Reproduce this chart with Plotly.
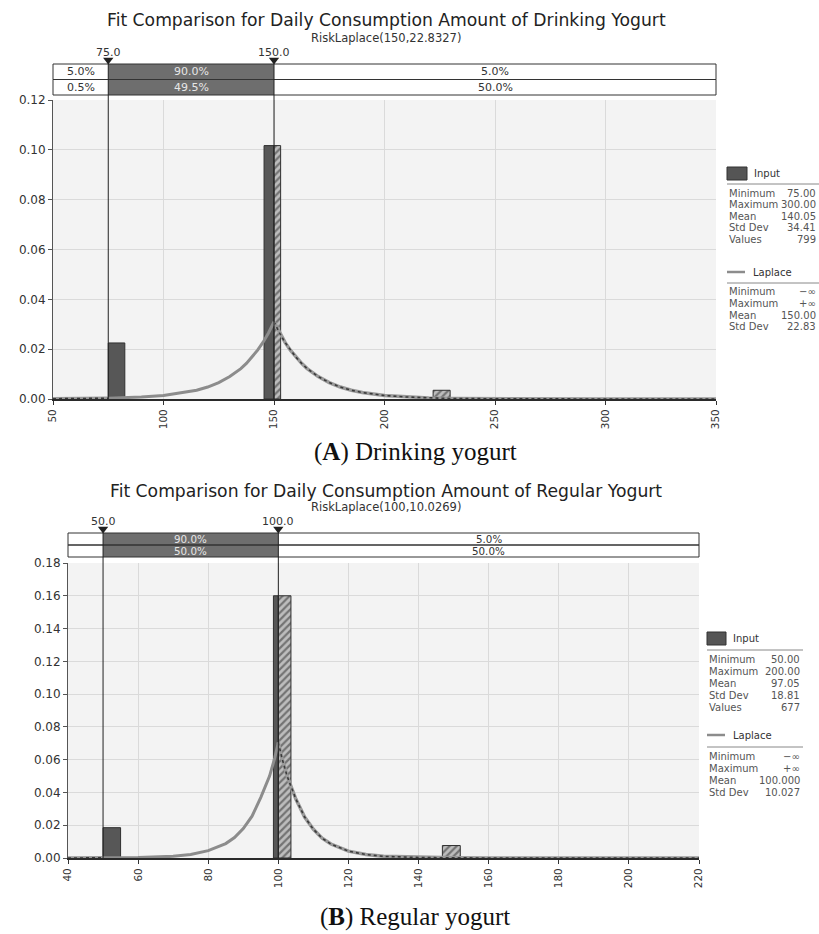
import numpy as np
import plotly.graph_objects as go

W, H = 819, 934

# ---------------- data: chart A (drinking yogurt) ----------------
title_a = "Fit Comparison for Daily Consumption Amount of Drinking Yogurt"
sub_a = "RiskLaplace(150,22.8327)"
caption_a = "(<b>A</b>) Drinking yogurt"
delims_a = [75.0, 150.0]
band_top_a = ["5.0%", "90.0%", "5.0%"]
band_bot_a = ["0.5%", "49.5%", "50.0%"]
xrange_a = [50, 350]
xticks_a = [50, 100, 150, 200, 250, 300, 350]
yrange_a = [0, 0.12]
bin_left_a = [75.0, 145.5, 150.0, 222.0]
bin_right_a = [82.5, 150.0, 153.0, 229.7]
bin_h_a = [0.0225, 0.1017, 0.1017, 0.0035]
curve_x_a = [50, 60, 70, 75, 80, 90, 100, 110, 115, 120, 125, 130, 135, 137.5, 140, 142.5, 145, 147.5, 150,
             152.5, 155, 157.5, 160, 162.5, 165, 170, 175, 180, 185, 190, 200, 210, 220, 230, 250, 270, 300, 350]
curve_y_a = [0.0001, 0.0001, 0.0002, 0.0003, 0.0004, 0.0008, 0.0014, 0.0026, 0.0035, 0.0048, 0.0066, 0.0090,
             0.0122, 0.0143, 0.0167, 0.0195, 0.0227, 0.0265, 0.0310,
             0.0265, 0.0227, 0.0195, 0.0167, 0.0143, 0.0122, 0.0090, 0.0066, 0.0048, 0.0035, 0.0026, 0.0014,
             0.0008, 0.0004, 0.0002, 0.0001, 0.0, 0.0, 0.0]
stats_in_a = [("Minimum", "75.00"), ("Maximum", "300.00"), ("Mean", "140.05"), ("Std Dev", "34.41"), ("Values", "799")]
stats_fit_a = [("Minimum", "\u2212\u221e"), ("Maximum", "+\u221e"), ("Mean", "150.00"), ("Std Dev", "22.83")]

# ---------------- data: chart B (regular yogurt) ----------------
title_b = "Fit Comparison for Daily Consumption Amount of Regular Yogurt"
sub_b = "RiskLaplace(100,10.0269)"
caption_b = "(<b>B</b>) Regular yogurt"
delims_b = [50.0, 100.0]
band_top_b = ["", "90.0%", "5.0%"]
band_bot_b = ["", "50.0%", "50.0%"]
xrange_b = [40, 220]
xticks_b = [40, 60, 80, 100, 120, 140, 160, 180, 200, 220]
yrange_b = [0, 0.18]
bin_left_b = [50.0, 98.6, 100.0, 146.8]
bin_right_b = [55.0, 100.0, 103.6, 151.9]
bin_h_b = [0.0185, 0.160, 0.160, 0.0076]
curve_x_b = [40, 50, 60, 70, 75, 80, 85, 87.5, 90, 92.5, 95, 97.5, 99, 100,
             101, 102.5, 105, 107.5, 110, 112.5, 115, 120, 125, 130, 140, 150, 160, 220]
curve_y_b = [0.0, 0.0001, 0.0003, 0.0010, 0.0021, 0.0045, 0.0088, 0.0125, 0.0180, 0.0255, 0.0370, 0.0500, 0.0612, 0.0705,
             0.0612, 0.0500, 0.0360, 0.0250, 0.0175, 0.0121, 0.0085, 0.0042, 0.0021, 0.0010, 0.0003, 0.0001, 0.0, 0.0]
stats_in_b = [("Minimum", "50.00"), ("Maximum", "200.00"), ("Mean", "97.05"), ("Std Dev", "18.81"), ("Values", "677")]
stats_fit_b = [("Minimum", "\u2212\u221e"), ("Maximum", "+\u221e"), ("Mean", "100.000"), ("Std Dev", "10.027")]


def px(x):
    return x / W


def py(y):
    return 1 - y / H


FONT = "DejaVu Sans"
DARK = "#333333"
fig = go.Figure()
layout = dict(
    width=W, height=H, margin=dict(l=0, r=0, t=0, b=0),
    paper_bgcolor="white", plot_bgcolor="#f3f3f3", showlegend=False,
    font=dict(family=FONT, size=10, color=DARK),
)
shapes, annots = [], []

# pixel layout for each panel: strip = [label area top, band top, band middle, band bottom, plot top]
panels = [
    dict(xa="x", ya="y", xs="x3", ys="y2",
         xdom=[53, 716], ydom=[399, 100], strip=[45, 64, 79.5, 95, 100], bandfs=11,
         title=title_a, sub=sub_a, cap=caption_a, ty=20, sy=38, capy=452, lab_y=52,
         delims=delims_a, btop=band_top_a, bbot=band_bot_a, xr=xrange_a, xt=xticks_a, yr=yrange_a,
         bl=bin_left_a, br=bin_right_a, bh=bin_h_a, cx=curve_x_a, cy=curve_y_a,
         sin=stats_in_a, sfit=stats_fit_a,
         lx=727, lxr=818, sep=[727, 819], icon=[727, 747, 167, 180], in_y=173, sep1=184,
         rows1=193, lap_y=272, sep2=283, rows2=292, step=11.6),
    dict(xa="x2", ya="y3", xs="x4", ys="y4",
         xdom=[68, 699], ydom=[858, 563], strip=[514, 533, 545, 557, 563], bandfs=10.3,
         title=title_b, sub=sub_b, cap=caption_b, ty=491, sy=507, capy=917, lab_y=521,
         delims=delims_b, btop=band_top_b, bbot=band_bot_b, xr=xrange_b, xt=xticks_b, yr=yrange_b,
         bl=bin_left_b, br=bin_right_b, bh=bin_h_b, cx=curve_x_b, cy=curve_y_b,
         sin=stats_in_b, sfit=stats_fit_b,
         lx=707, lxr=802, sep=[707, 803], icon=[707, 726, 632, 645], in_y=638, sep1=650,
         rows1=659, lap_y=735, sep2=747, rows2=756, step=12),
]

for p in panels:
    xa_name = "xaxis" if p["xa"] == "x" else "xaxis" + p["xa"][1:]
    ya_name = "yaxis" if p["ya"] == "y" else "yaxis" + p["ya"][1:]
    xs_name = "xaxis" + p["xs"][1:]
    ys_name = "yaxis" + p["ys"][1:]
    xdom = [px(p["xdom"][0]), px(p["xdom"][1])]
    s_lab, s_top, s_mid, s_bot, s_end = p["strip"]
    upx = s_mid - s_top  # pixels per strip unit

    def sy(pix):
        return 2 + (s_top - pix) / upx

    srange = [sy(s_end), sy(s_lab)]

    layout[xa_name] = dict(domain=xdom, range=p["xr"], anchor=p["ya"], tickvals=p["xt"],
                           tickangle=-90, showgrid=True, gridcolor="#dadada", zeroline=False,
                           showline=True, linecolor="#2a2a2a", linewidth=2, ticks="outside", ticklen=4,
                           tickcolor=DARK, tickfont=dict(size=10.5, color=DARK), automargin=False)
    layout[ya_name] = dict(domain=[py(p["ydom"][0]), py(p["ydom"][1])], range=p["yr"], anchor=p["xa"],
                           dtick=0.02, tickformat=".2f", showgrid=True, gridcolor="#dadada",
                           zeroline=False, showline=True, linecolor="#555", linewidth=1,
                           ticks="outside", ticklen=4, tickcolor="#555",
                           tickfont=dict(size=12, color=DARK), automargin=False)
    layout[xs_name] = dict(domain=xdom, range=p["xr"], anchor=p["ys"], visible=False,
                           showgrid=False, zeroline=False)
    layout[ys_name] = dict(domain=[py(s_end), py(s_lab)], range=srange,
                           anchor=p["xs"], visible=False, showgrid=False, zeroline=False)

    lo, hi = p["delims"]
    shapes.append(dict(type="rect", xref=p["xs"] + " domain", yref=p["ys"] + " domain",
                       x0=0, x1=1, y0=0, y1=1, fillcolor="white", line=dict(width=0), layer="below"))
    shapes.append(dict(type="rect", xref=p["xs"], yref=p["ys"], x0=lo, x1=hi, y0=0, y1=2,
                       fillcolor="#6e6e6e", line=dict(width=0), layer="above"))
    for r0 in (0, 1):
        shapes.append(dict(type="rect", xref=p["xs"] + " domain", yref=p["ys"],
                           x0=0, x1=1, y0=r0, y1=r0 + 1, fillcolor="rgba(0,0,0,0)",
                           line=dict(color=DARK, width=1), layer="above"))
    segs = [(p["xr"][0], lo), (lo, hi), (hi, p["xr"][1])]
    for j, (a, b) in enumerate(segs):
        col = "#e6e6e6" if j == 1 else DARK
        for row, txt in ((1.5, p["btop"][j]), (0.5, p["bbot"][j])):
            if txt:
                annots.append(dict(xref=p["xs"], yref=p["ys"], x=(a + b) / 2, y=row, text=txt,
                                   showarrow=False, yanchor="middle",
                                   font=dict(size=p["bandfs"], color=col, family=FONT)))
    tri_y = sy(s_top - 4)
    for d in p["delims"]:
        shapes.append(dict(type="line", xref=p["xs"], yref=p["ys"], x0=d, x1=d, y0=srange[0], y1=tri_y,
                           line=dict(color="#222", width=1), layer="above"))
        shapes.append(dict(type="line", xref=p["xa"], yref=p["ya"] + " domain", x0=d, x1=d, y0=0, y1=1,
                           line=dict(color="#222", width=1), layer="above"))
        annots.append(dict(xref=p["xs"], yref=p["ys"], x=d, y=sy(p["lab_y"]),
                           text=f"{d:.1f}", showarrow=False, yanchor="middle",
                           font=dict(size=11, color=DARK, family=FONT)))
    fig.add_trace(go.Scatter(x=p["delims"], y=[tri_y] * len(p["delims"]), xaxis=p["xs"], yaxis=p["ys"],
                             mode="markers", marker=dict(symbol="triangle-down", size=9, color="#222",
                                                         line=dict(width=0)),
                             cliponaxis=False, hoverinfo="skip"))

    # histogram bars
    bl, br, bh = np.array(p["bl"]), np.array(p["br"]), np.array(p["bh"])
    outside = (bl >= hi) | (br <= lo)
    cen, wid = (bl + br) / 2, br - bl
    fig.add_trace(go.Bar(x=cen[~outside], y=bh[~outside], width=wid[~outside], xaxis=p["xa"], yaxis=p["ya"],
                         marker=dict(color="#575757", line=dict(color="#303030", width=1))))
    fig.add_trace(go.Bar(x=cen[outside], y=bh[outside], width=wid[outside], xaxis=p["xa"], yaxis=p["ya"],
                         marker=dict(color="#bdbdbd", line=dict(color="#303030", width=1),
                                     pattern=dict(shape="/", fgcolor="#2a2a2a", bgcolor="#bdbdbd",
                                                  size=5, solidity=0.45))))

    # fitted curve
    cx, cy = np.array(p["cx"], dtype=float), np.array(p["cy"], dtype=float)
    mid = (cx >= lo) & (cx <= hi)
    for m in [cx <= lo, cx >= hi]:
        fig.add_trace(go.Scatter(x=cx[m], y=cy[m], xaxis=p["xa"], yaxis=p["ya"], mode="lines",
                                 line=dict(color="#9a9a9a", width=3.5), hoverinfo="skip"))
        fig.add_trace(go.Scatter(x=cx[m], y=cy[m], xaxis=p["xa"], yaxis=p["ya"], mode="lines",
                                 line=dict(color="#3a3a3a", width=1.6, dash="dot"), hoverinfo="skip"))
    fig.add_trace(go.Scatter(x=cx[mid], y=cy[mid], xaxis=p["xa"], yaxis=p["ya"], mode="lines",
                             line=dict(color="#8c8c8c", width=3), hoverinfo="skip"))

    # titles and caption
    annots.append(dict(xref="paper", yref="paper", x=px(386), y=py(p["ty"]), text=p["title"], showarrow=False,
                       font=dict(size=17.2, color="#222", family=FONT), yanchor="middle"))
    annots.append(dict(xref="paper", yref="paper", x=px(386), y=py(p["sy"]), text=p["sub"], showarrow=False,
                       font=dict(size=11.5, color="#333", family=FONT), yanchor="middle"))
    annots.append(dict(xref="paper", yref="paper", x=px(415), y=py(p["capy"]), text=p["cap"], showarrow=False,
                       font=dict(size=25, color="#111", family="Liberation Serif"), yanchor="middle"))

    # legend box
    fs = 10
    ix0, ix1, iy0, iy1 = p["icon"]
    shapes.append(dict(type="rect", xref="paper", yref="paper", x0=px(ix0), x1=px(ix1), y0=py(iy1), y1=py(iy0),
                       fillcolor="#555555", line=dict(color="#333", width=1)))
    annots.append(dict(xref="paper", yref="paper", x=px(ix1 + 5), y=py(p["in_y"]), text="Input", showarrow=False,
                       xanchor="left", yanchor="middle", font=dict(size=fs, color="#333", family=FONT)))
    for sy_ in (p["sep1"], p["sep2"]):
        shapes.append(dict(type="line", xref="paper", yref="paper", x0=px(p["sep"][0]), x1=px(p["sep"][1]),
                           y0=py(sy_), y1=py(sy_), line=dict(color="#888", width=1)))
    shapes.append(dict(type="line", xref="paper", yref="paper", x0=px(ix0), x1=px(ix0 + 18),
                       y0=py(p["lap_y"]), y1=py(p["lap_y"]), line=dict(color="#8c8c8c", width=2.5)))
    annots.append(dict(xref="paper", yref="paper", x=px(ix0 + 24), y=py(p["lap_y"]), text="Laplace",
                       showarrow=False, xanchor="left", yanchor="middle",
                       font=dict(size=fs, color="#333", family=FONT)))
    for rows, stats in ((p["rows1"], p["sin"]), (p["rows2"], p["sfit"])):
        for k, (lab, val) in enumerate(stats):
            yy = rows + k * p["step"]
            annots.append(dict(xref="paper", yref="paper", x=px(p["lx"]), y=py(yy), text=lab, showarrow=False,
                               xanchor="left", yanchor="middle", font=dict(size=fs, color="#555", family=FONT)))
            annots.append(dict(xref="paper", yref="paper", x=px(p["lxr"]), y=py(yy), text=val, showarrow=False,
                               xanchor="right", yanchor="middle", font=dict(size=fs, color="#555", family=FONT)))

layout["shapes"] = shapes
layout["annotations"] = annots
layout["barmode"] = "overlay"
fig.update_layout(**layout)
fig.write_html("out.html")
